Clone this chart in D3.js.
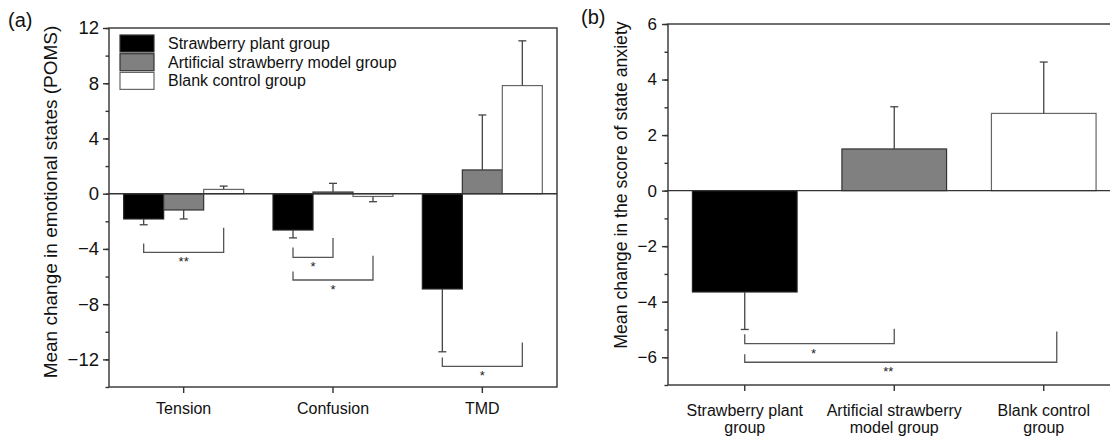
<!DOCTYPE html>
<html>
<head>
<meta charset="utf-8">
<script src="https://cdn.jsdelivr.net/npm/d3@7"></script>
<style>
    body { margin: 0; background: #fff; }
    svg { display: block; font-family: "Liberation Sans", Arial, sans-serif; }
    .axis path, .axis line { stroke: #333; stroke-width: 1.4; }
    .axis text { fill: #111; }
</style>
</head>
<body>
<svg id="chart" width="1110" height="436"></svg>
<script>
// ---- panel (a) data ----
const categoriesA = ["Tension", "Confusion", "TMD"];
const seriesNames = ["Strawberry plant group", "Artificial strawberry model group", "Blank control group"];
const plantMeans = [-1.83, -2.63, -6.9];
const plantErrors = [0.42, 0.57, 4.55];
const modelMeans = [-1.18, 0.12, 1.72];
const modelErrors = [0.65, 0.63, 3.98];
const blankMeans = [0.31, -0.2, 7.83];
const blankErrors = [0.24, 0.38, 3.24];
const ticksA = [-12, -8, -4, 0, 4, 8, 12];
// brackets: category, from series, to series, left top, right top, bar level, label
const bracketsA = [
    {cat: 0, from: 0, to: 2, left: -3.6, right: -2.47, level: -4.25, label: "**"},
    {cat: 1, from: 0, to: 1, left: -3.89, right: -3.21, level: -4.61, label: "*"},
    {cat: 1, from: 0, to: 2, left: -5.63, right: -4.49, level: -6.25, label: "*"},
    {cat: 2, from: 0, to: 2, left: -11.86, right: -10.78, level: -12.51, label: "*"}
];

// ---- panel (b) data ----
const categoriesB = [["Strawberry plant", "group"], ["Artificial strawberry", "model group"], ["Blank control", "group"]];
const anxietyMeans = [-3.65, 1.5, 2.78];
const anxietyErrors = [1.35, 1.52, 1.85];
const ticksB = [-6, -4, -2, 0, 2, 4, 6];
const bracketsB = [
    {from: 0, to: 1, left: -5.17, right: -4.97, level: -5.51, label: "*", shift: 0},
    {from: 0, to: 2, left: -5.89, right: -5.07, level: -6.18, label: "**", shift: 13}
];

const fills = ["#000000", "#808080", "#ffffff"];
const strokes = ["#222", "#333", "#666"];
const errColor = "#444";

const svg = d3.select("#chart");

function drawBracket(g, x1, x2, yl, yr, yb, label, lx) {
    g.append("path")
        .attr("d", "M" + x1 + "," + yl + "V" + yb + "H" + x2 + "V" + yr)
        .attr("fill", "none")
        .attr("stroke", "#555")
        .attr("stroke-width", 1.3);
    g.append("text")
        .attr("x", lx)
        .attr("y", yb + 14)
        .attr("text-anchor", "middle")
        .attr("font-size", 13)
        .attr("fill", "#222")
        .text(label);
}

function errorBar(g, x, y0, y1) {
    g.append("line").attr("x1", x).attr("x2", x).attr("y1", y0).attr("y2", y1)
        .attr("stroke", errColor).attr("stroke-width", 1.3);
    g.append("line").attr("x1", x - 4).attr("x2", x + 4).attr("y1", y1).attr("y2", y1)
        .attr("stroke", errColor).attr("stroke-width", 1.3);
}

// ================= panel (a) =================
function panelA() {
    const left = 109, right = 557, top = 28, bottom = 387;
    const g = svg.append("g");

    const y = d3.scaleLinear().domain([-14, 12]).range([bottom, top]);
    const x0 = d3.scaleBand().domain(categoriesA).range([left, right]).padding(0);
    const x1 = d3.scaleBand().domain([0, 1, 2]).range([0, x0.bandwidth()])
        .paddingInner(0).paddingOuter(0.367);

    const means = [plantMeans, modelMeans, blankMeans];
    const errs = [plantErrors, modelErrors, blankErrors];

    // frame
    g.append("rect").attr("x", left).attr("y", top)
        .attr("width", right - left).attr("height", bottom - top)
        .attr("fill", "none").attr("stroke", "#333").attr("stroke-width", 1.4);

    // bars + error bars
    categoriesA.forEach(function(c, ci) {
        means.forEach(function(series, si) {
            const v = series[ci];
            const bx = x0(c) + x1(si);
            g.append("rect")
                .attr("x", bx)
                .attr("y", y(Math.max(0, v)))
                .attr("width", x1.bandwidth())
                .attr("height", Math.abs(y(v) - y(0)))
                .attr("fill", fills[si])
                .attr("stroke", strokes[si])
                .attr("stroke-width", 1.2);
            const end = v >= 0 ? v + errs[si][ci] : v - errs[si][ci];
            errorBar(g, bx + x1.bandwidth() / 2, y(v), y(end));
        });
    });

    // zero line
    g.append("line").attr("x1", left).attr("x2", right).attr("y1", y(0)).attr("y2", y(0))
        .attr("stroke", "#333").attr("stroke-width", 1.4);

    // significance brackets
    bracketsA.forEach(function(b) {
        const c = categoriesA[b.cat];
        const xa = x0(c) + x1(b.from) + x1.bandwidth() / 2;
        const xb = x0(c) + x1(b.to) + x1.bandwidth() / 2;
        drawBracket(g, xa, xb, y(b.left), y(b.right), y(b.level), b.label, (xa + xb) / 2);
    });

    // y axis, major + minor ticks
    g.append("g").attr("class", "axis").attr("transform", "translate(" + left + ",0)")
        .call(d3.axisLeft(y).tickValues(d3.range(-14, 13, 2)).tickSize(3.5).tickFormat(""))
        .call(a => a.select(".domain").remove());
    g.append("g").attr("class", "axis").attr("transform", "translate(" + left + ",0)")
        .call(d3.axisLeft(y).tickValues(ticksA).tickSize(6).tickPadding(4)
            .tickFormat(d => d < 0 ? "\u2212" + Math.abs(d) : d))
        .call(a => a.selectAll("text").attr("font-size", 18.5))
        .call(a => a.select(".domain").remove());

    // x axis
    g.append("g").attr("class", "axis").attr("transform", "translate(0," + bottom + ")")
        .call(d3.axisBottom(x0).tickSize(6).tickPadding(9.5).tickSizeOuter(0))
        .call(a => a.selectAll("text").attr("font-size", 16))
        .call(a => a.select(".domain").remove());

    // legend
    const leg = g.append("g");
    seriesNames.forEach(function(name, i) {
        leg.append("rect").attr("x", 120).attr("y", 35 + i * 18.7)
            .attr("width", 34).attr("height", 17)
            .attr("fill", fills[i]).attr("stroke", i === 2 ? "#666" : "#333").attr("stroke-width", 1.2);
        leg.append("text").attr("x", 168).attr("y", 49 + i * 18.7)
            .attr("font-size", 16).attr("fill", "#111").text(name);
    });

    // axis title and panel label
    g.append("text")
        .attr("transform", "translate(57,202) rotate(-90)")
        .attr("text-anchor", "middle").attr("font-size", 19).attr("fill", "#111")
        .text("Mean change in emotional states (POMS)");
    g.append("text").attr("x", 8).attr("y", 27).attr("font-size", 20).attr("fill", "#111").text("(a)");
}

// ================= panel (b) =================
function panelB() {
    const left = 668, right = 1118, top = 24, bottom = 385;
    const g = svg.append("g");

    const y = d3.scaleLinear().domain([-7, 6]).range([bottom, top]);
    const x = d3.scaleBand().domain(d3.range(categoriesB.length)).range([left + 2, right + 0.5]).padding(0);
    const bw = x.bandwidth() * 0.7;
    const cx = i => x(i) + x.bandwidth() / 2;

    // frame (right side is cut by the page edge)
    g.append("rect").attr("x", left).attr("y", top)
        .attr("width", right - left).attr("height", bottom - top)
        .attr("fill", "none").attr("stroke", "#333").attr("stroke-width", 1.4);

    anxietyMeans.forEach(function(v, i) {
        g.append("rect")
            .attr("x", cx(i) - bw / 2)
            .attr("y", y(Math.max(0, v)))
            .attr("width", bw)
            .attr("height", Math.abs(y(v) - y(0)))
            .attr("fill", fills[i])
            .attr("stroke", strokes[i])
            .attr("stroke-width", 1.2);
        const end = v >= 0 ? v + anxietyErrors[i] : v - anxietyErrors[i];
        errorBar(g, cx(i), y(v), y(end));
    });

    g.append("line").attr("x1", left).attr("x2", right).attr("y1", y(0)).attr("y2", y(0))
        .attr("stroke", "#333").attr("stroke-width", 1.4);

    bracketsB.forEach(function(b) {
        const xa = cx(b.from), xb = cx(b.to) + b.shift;
        drawBracket(g, xa, xb, y(b.left), y(b.right), y(b.level), b.label, (cx(b.from) + cx(b.to)) / 2 - 6);
    });

    // y axis
    g.append("g").attr("class", "axis").attr("transform", "translate(" + left + ",0)")
        .call(d3.axisLeft(y).tickValues(d3.range(-7, 7, 1)).tickSize(3.5).tickFormat(""))
        .call(a => a.select(".domain").remove());
    g.append("g").attr("class", "axis").attr("transform", "translate(" + left + ",0)")
        .call(d3.axisLeft(y).tickValues(ticksB).tickSize(6).tickPadding(5)
            .tickFormat(d => d < 0 ? "\u2212" + Math.abs(d) : d))
        .call(a => a.selectAll("text").attr("font-size", 17))
        .call(a => a.select(".domain").remove());

    // x axis ticks + two-line labels
    const xa = g.append("g").attr("class", "axis").attr("transform", "translate(0," + bottom + ")")
        .call(d3.axisBottom(x).tickSize(6).tickSizeOuter(0).tickFormat(""))
        .call(a => a.select(".domain").remove());
    categoriesB.forEach(function(lines, i) {
        const t = g.append("text").attr("text-anchor", "middle")
            .attr("font-size", 16).attr("fill", "#111");
        lines.forEach(function(l, j) {
            t.append("tspan").attr("x", cx(i)).attr("y", bottom + 31 + j * 17).text(l);
        });
    });

    g.append("text")
        .attr("transform", "translate(627,185) rotate(-90)")
        .attr("text-anchor", "middle").attr("font-size", 17.7).attr("fill", "#111")
        .text("Mean change in the score of state anxiety");
    g.append("text").attr("x", 581).attr("y", 24).attr("font-size", 20).attr("fill", "#111").text("(b)");
}

panelA();
panelB();
</script>
</body>
</html>
